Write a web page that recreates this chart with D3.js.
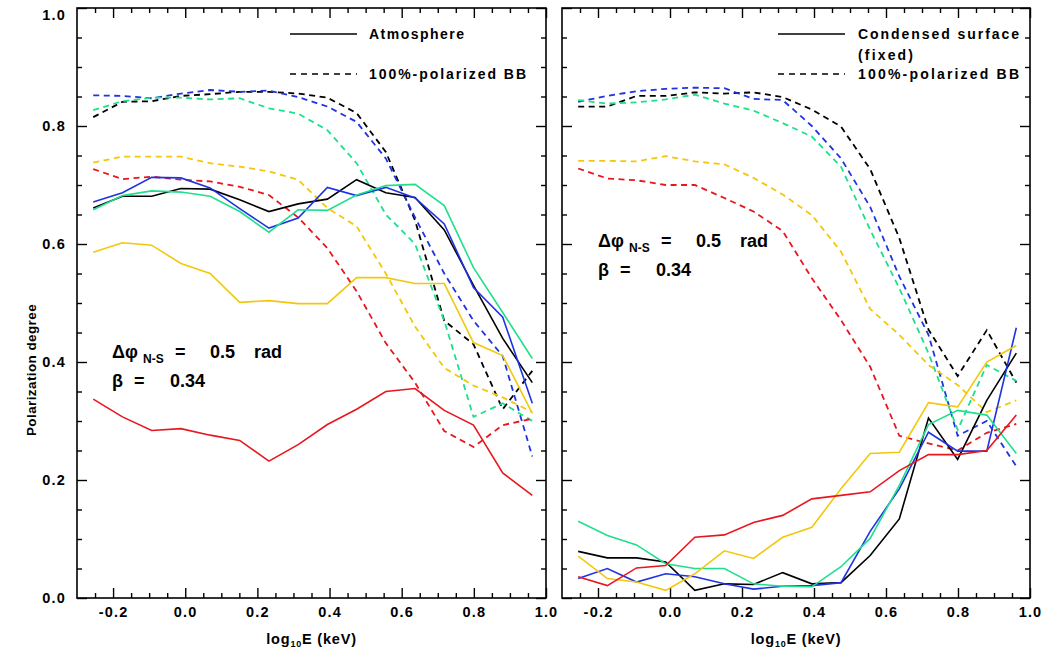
<!DOCTYPE html>
<html><head><meta charset="utf-8">
<script src="https://cdn.jsdelivr.net/npm/d3@7/dist/d3.min.js"></script>
<style>
body{margin:0;background:#fff}
text{font-family:"Liberation Sans",Arial,sans-serif;fill:#000}
</style>
</head><body>
<svg id="chart" width="1044" height="650"></svg>
<script>
// ---------------- data ----------------
const logE = [-0.255, -0.174, -0.093, -0.012, 0.069, 0.151, 0.232, 0.313, 0.394, 0.475, 0.556, 0.637, 0.718, 0.799, 0.880, 0.962];

// left panel, solid: Atmosphere
const atmBlack  = [0.661, 0.681, 0.681, 0.694, 0.693, 0.675, 0.655, 0.668, 0.676, 0.709, 0.687, 0.679, 0.624, 0.530, 0.440, 0.365];
const atmBlue   = [0.671, 0.687, 0.713, 0.712, 0.695, 0.660, 0.627, 0.644, 0.696, 0.682, 0.696, 0.678, 0.634, 0.526, 0.476, 0.330];
const atmGreen  = [0.658, 0.682, 0.690, 0.688, 0.681, 0.655, 0.620, 0.658, 0.657, 0.683, 0.699, 0.701, 0.665, 0.560, 0.484, 0.406];
const atmYellow = [0.586, 0.602, 0.598, 0.567, 0.550, 0.501, 0.504, 0.499, 0.499, 0.543, 0.543, 0.533, 0.533, 0.433, 0.411, 0.313];
const atmRed    = [0.337, 0.307, 0.284, 0.287, 0.276, 0.267, 0.232, 0.260, 0.294, 0.320, 0.350, 0.355, 0.318, 0.293, 0.212, 0.174];

// left panel, dashed: 100%-polarized BB
const bbLBlack  = [0.815, 0.841, 0.842, 0.851, 0.854, 0.858, 0.858, 0.855, 0.848, 0.822, 0.756, 0.640, 0.470, 0.430, 0.320, 0.385];
const bbLBlue   = [0.852, 0.851, 0.847, 0.855, 0.861, 0.858, 0.860, 0.849, 0.833, 0.807, 0.745, 0.645, 0.550, 0.470, 0.410, 0.240];
const bbLGreen  = [0.827, 0.842, 0.848, 0.848, 0.845, 0.847, 0.830, 0.821, 0.793, 0.737, 0.650, 0.600, 0.470, 0.307, 0.330, 0.300];
const bbLYellow = [0.738, 0.748, 0.748, 0.748, 0.737, 0.731, 0.723, 0.709, 0.661, 0.630, 0.550, 0.460, 0.390, 0.360, 0.340, 0.315];
const bbLRed    = [0.727, 0.710, 0.714, 0.709, 0.706, 0.697, 0.683, 0.645, 0.593, 0.520, 0.432, 0.365, 0.283, 0.256, 0.293, 0.304];

// right panel, solid: Condensed surface (fixed)
const csBlack  = [0.079, 0.068, 0.068, 0.061, 0.013, 0.024, 0.023, 0.043, 0.024, 0.026, 0.072, 0.134, 0.305, 0.235, 0.335, 0.415];
const csBlue   = [0.033, 0.050, 0.027, 0.041, 0.036, 0.024, 0.015, 0.020, 0.021, 0.026, 0.113, 0.185, 0.281, 0.249, 0.249, 0.458];
const csGreen  = [0.130, 0.106, 0.090, 0.058, 0.050, 0.050, 0.024, 0.020, 0.019, 0.053, 0.101, 0.191, 0.294, 0.318, 0.310, 0.245];
const csYellow = [0.071, 0.033, 0.027, 0.013, 0.041, 0.080, 0.067, 0.103, 0.120, 0.185, 0.245, 0.247, 0.331, 0.324, 0.400, 0.428];
const csRed    = [0.036, 0.021, 0.051, 0.055, 0.103, 0.107, 0.128, 0.140, 0.168, 0.174, 0.180, 0.216, 0.243, 0.243, 0.250, 0.310];

// right panel, dashed: 100%-polarized BB
const bbRBlack  = [0.833, 0.833, 0.851, 0.851, 0.857, 0.855, 0.857, 0.849, 0.828, 0.799, 0.727, 0.610, 0.455, 0.376, 0.454, 0.365];
const bbRBlue   = [0.841, 0.851, 0.859, 0.863, 0.865, 0.864, 0.846, 0.844, 0.800, 0.745, 0.663, 0.545, 0.446, 0.275, 0.300, 0.223];
const bbRGreen  = [0.844, 0.838, 0.840, 0.845, 0.853, 0.838, 0.826, 0.805, 0.782, 0.731, 0.624, 0.525, 0.415, 0.285, 0.395, 0.368];
const bbRYellow = [0.741, 0.741, 0.740, 0.749, 0.740, 0.735, 0.712, 0.684, 0.649, 0.587, 0.490, 0.446, 0.395, 0.361, 0.315, 0.335];
const bbRRed    = [0.728, 0.711, 0.708, 0.700, 0.700, 0.678, 0.655, 0.622, 0.542, 0.471, 0.392, 0.275, 0.262, 0.250, 0.280, 0.295];

const xTickValues = [-0.2, 0.0, 0.2, 0.4, 0.6, 0.8, 1.0];
const xTickLabels = ["-0.2", "0.0", "0.2", "0.4", "0.6", "0.8", "1.0"];
const yTickValues = [0.0, 0.2, 0.4, 0.6, 0.8, 1.0];
const yTickLabels = ["0.0", "0.2", "0.4", "0.6", "0.8", "1.0"];

const colors = {black:"#000000", blue:"#1f33e2", green:"#1ee08c", yellow:"#f3c80c", red:"#e8161e"};

// ---------------- layout ----------------
const svg = d3.select("#chart");
const yTop = 8, yBot = 598;
const y = d3.scaleLinear().domain([0, 1]).range([yBot, yTop]);

const panels = [
  {x0: 77, x1: 546, yLabels: true,
   dashed: [["black", bbLBlack], ["blue", bbLBlue], ["green", bbLGreen], ["yellow", bbLYellow], ["red", bbLRed]],
   solid:  [["black", atmBlack], ["blue", atmBlue], ["green", atmGreen], ["yellow", atmYellow], ["red", atmRed]],
   legend: {lx0: 290, lx1: 357, tx: 369, solidText: ["Atmosphere"], solidLen: [95], bbLen: 157},
   annot: {x: 112, y: 358}},
  {x0: 562, x1: 1030, yLabels: false,
   dashed: [["black", bbRBlack], ["blue", bbRBlue], ["green", bbRGreen], ["yellow", bbRYellow], ["red", bbRRed]],
   solid:  [["black", csBlack], ["blue", csBlue], ["green", csGreen], ["yellow", csYellow], ["red", csRed]],
   legend: {lx0: 778, lx1: 845, tx: 858, solidText: ["Condensed surface", "(fixed)"], solidLen: [161, 55], bbLen: 161},
   annot: {x: 598, y: 247}}
];

const majorX = xTickValues;
const minorX = d3.range(-5, 21).filter(k => k % 4 !== 0).map(k => k / 20);
const minorY = d3.range(0, 21).filter(k => k % 4 !== 0).map(k => k / 20);

panels.forEach(p => {
  const x = d3.scaleLinear().domain([-0.3, 1.0]).range([p.x0, p.x1]);
  const g = svg.append("g");

  // axes (ticks pointing inward)
  const addAxis = (axisFn, vals, size, labels, transform) => {
    const a = axisFn.tickValues(vals).tickSizeInner(size).tickSizeOuter(0).tickPadding(9)
      .tickFormat(labels ? ((d, i) => labels[i]) : () => "");
    const ag = g.append("g").attr("transform", transform).call(a);
    ag.select(".domain").remove();
    ag.selectAll("line").attr("stroke", "#000").attr("stroke-width", 1.4);
    return ag;
  };
  const xb = addAxis(d3.axisBottom(x), majorX, -10, xTickLabels, `translate(0,${yBot})`);
  xb.selectAll("text").attr("font-size", 14.5).attr("font-weight", "bold").attr("letter-spacing", 1.2).attr("fill", "#000");
  addAxis(d3.axisBottom(x), minorX, -5, null, `translate(0,${yBot})`);
  addAxis(d3.axisTop(x), majorX, -10, null, `translate(0,${yTop})`);
  addAxis(d3.axisTop(x), minorX, -5, null, `translate(0,${yTop})`);
  const yl = addAxis(d3.axisLeft(y), yTickValues, -10, p.yLabels ? yTickLabels : null, `translate(${p.x0},0)`);
  yl.selectAll("text").attr("font-size", 14.5).attr("font-weight", "bold").attr("letter-spacing", 1.2)
    .attr("fill", "#000").attr("dx", -2)
    .attr("y", d => Math.max(y(d), yTop + 7) - y(d));
  addAxis(d3.axisLeft(y), minorY, -5, null, `translate(${p.x0},0)`);
  addAxis(d3.axisRight(y), yTickValues, -10, null, `translate(${p.x1},0)`);
  addAxis(d3.axisRight(y), minorY, -5, null, `translate(${p.x1},0)`);

  // frame
  g.append("rect").attr("x", p.x0).attr("y", yTop).attr("width", p.x1 - p.x0).attr("height", yBot - yTop)
    .attr("fill", "none").attr("stroke", "#000").attr("stroke-width", 1.6);

  const line = d3.line().x((d, i) => x(logE[i])).y(d => y(d));
  p.dashed.forEach(([c, vals]) => {
    g.append("path").datum(vals).attr("d", line).attr("fill", "none")
      .attr("stroke", colors[c]).attr("stroke-width", 1.8).attr("stroke-dasharray", "6,4.5");
  });
  p.solid.forEach(([c, vals]) => {
    g.append("path").datum(vals).attr("d", line).attr("fill", "none")
      .attr("stroke", colors[c]).attr("stroke-width", 1.6);
  });

  // legend
  const L = p.legend;
  g.append("line").attr("x1", L.lx0).attr("x2", L.lx1).attr("y1", 34).attr("y2", 34)
    .attr("stroke", "#000").attr("stroke-width", 1.4);
  g.append("line").attr("x1", L.lx0).attr("x2", L.lx1).attr("y1", 74).attr("y2", 74)
    .attr("stroke", "#000").attr("stroke-width", 1.4).attr("stroke-dasharray", "6,5");
  L.solidText.forEach((t, i) => {
    g.append("text").attr("x", L.tx).attr("y", 39 + i * 21).attr("font-size", 14).attr("font-weight", "bold")
      .attr("textLength", L.solidLen[i]).attr("lengthAdjust", "spacing").text(t);
  });
  g.append("text").attr("x", L.tx).attr("y", 79).attr("font-size", 14).attr("font-weight", "bold")
    .attr("textLength", L.bbLen).attr("lengthAdjust", "spacing").text("100%-polarized BB");

  // annotation
  const A = p.annot;
  const t1 = g.append("text").attr("y", A.y).attr("font-size", 18).attr("font-weight", "bold");
  t1.append("tspan").attr("x", A.x).text("Δφ");
  t1.append("tspan").attr("x", A.x + 31).attr("dy", 5).attr("font-size", 12).text("N-S");
  t1.append("tspan").attr("x", A.x + 63).attr("dy", -5).text("=");
  t1.append("tspan").attr("x", A.x + 98).text("0.5");
  t1.append("tspan").attr("x", A.x + 142).text("rad");
  const t2 = g.append("text").attr("y", A.y + 29).attr("font-size", 18).attr("font-weight", "bold");
  t2.append("tspan").attr("x", A.x).text("β");
  t2.append("tspan").attr("x", A.x + 22).text("=");
  t2.append("tspan").attr("x", A.x + 58).text("0.34");

  // x-axis title
  const xt = g.append("text").attr("x", (p.x0 + p.x1) / 2).attr("y", 644).attr("text-anchor", "middle")
    .attr("font-size", 14.5).attr("font-weight", "bold").attr("letter-spacing", 0.8);
  xt.append("tspan").text("log");
  xt.append("tspan").attr("font-size", 9).attr("dy", 3).text("10");
  xt.append("tspan").attr("dy", -3).text("E (keV)");
});

// y-axis title
svg.append("text").attr("transform", "translate(36,370) rotate(-90)").attr("text-anchor", "middle")
  .attr("font-size", 13.5).attr("font-weight", "bold").attr("letter-spacing", 0.4).text("Polarization degree");
</script>
</body></html>
